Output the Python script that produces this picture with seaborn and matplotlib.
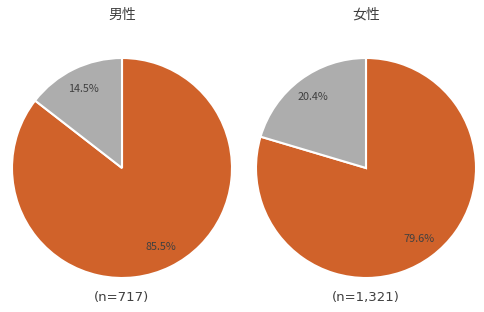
import matplotlib
matplotlib.use("Agg")
import matplotlib.pyplot as plt
import seaborn as sns

groups = ["男性", "女性"]
sample_labels = ["(n=717)", "(n=1,321)"]
categories = ["該当", "非該当"]
values_male = [85.5, 14.5]
values_female = [79.6, 20.4]
colors = ["#D0622A", "#ADADAD"]

sns.set_theme(style="white")
plt.rcParams['font.family'] = ['Noto Sans CJK JP', 'DejaVu Sans']

fig = plt.figure(figsize=(4.85, 3.12), dpi=100)
W, H = 485, 312
centers = [(122, 168), (366, 168)]
R = 110
series = [values_male, values_female]

for (cx, cy), vals, title, nlab in zip(centers, series, groups, sample_labels):
    ax = fig.add_axes([(cx - R) / W, (H - cy - R) / H, 2 * R / W, 2 * R / H])
    wedges, texts, autotexts = ax.pie(
        vals, colors=colors, startangle=90, counterclock=False,
        autopct=lambda p: f"{p:.1f}%", pctdistance=0.8,
        wedgeprops=dict(edgecolor="white", linewidth=1.5),
        textprops=dict(fontsize=7.8, color="#404040"))
    ax.set_xlim(-1, 1)
    ax.set_ylim(-1, 1)
    ax.set_aspect("equal")
    ax.axis("off")
    fig.text(cx / W, 1 - 15 / H, title, ha="center", va="center",
             fontsize=10, color="#404040")
    fig.text(cx / W, 1 - 297 / H, nlab, ha="center", va="center",
             fontsize=9.5, color="#404040", family=["DejaVu Sans"])

fig.savefig("out.png", dpi=100, facecolor="white")
